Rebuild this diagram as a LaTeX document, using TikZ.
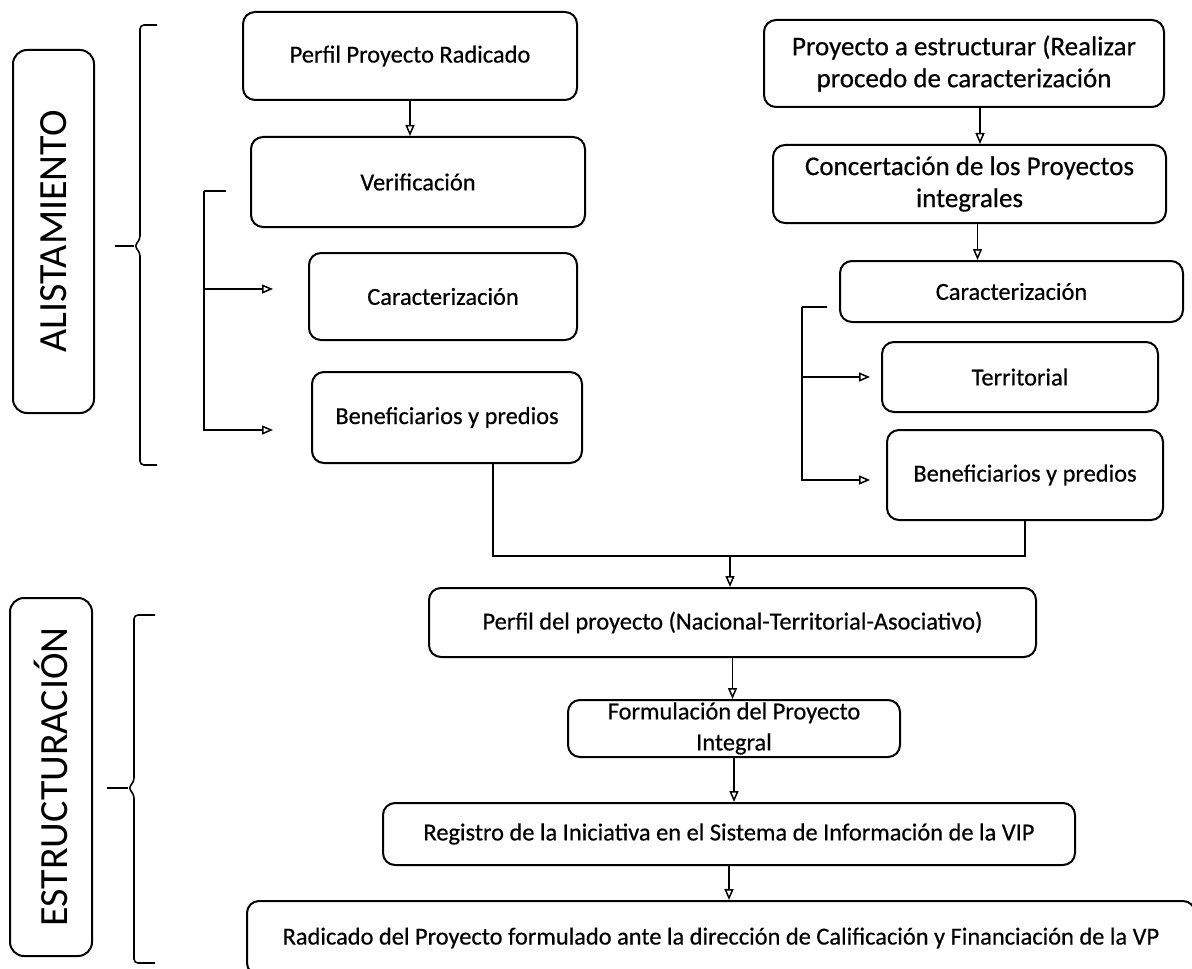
\documentclass[tikz,border=0pt]{standalone}
\usepackage{fontspec}
\setmainfont{Carlito}
\newfontfamily\cajafont{Carlito}[FakeBold=0.5]
\usetikzlibrary{arrows.meta, calc, positioning}
\tikzset{
  align=center,
  caja/.style={draw, rounded corners=6pt, line width=1pt, inner sep=2pt, font=\cajafont\fontsize{12.2}{15.5}\selectfont},
  cajag/.style={caja, font=\cajafont\fontsize{13.5}{16}\selectfont},
  etapa/.style={draw, rounded corners=7pt, line width=1pt, rotate=90, font=\fontsize{20}{24}\selectfont},
  pto/.style={-{Triangle[open, length=5.5pt, width=4.5pt]}, line width=0.75pt},
  alin/.style={line width=0.75pt},
  llave/.style={line width=0.8pt, rounded corners=2pt}
}

\begin{document}
\begin{tikzpicture}[x=0.5pt, y=-0.5pt]
  \useasboundingbox (0,0) rectangle (1192,968);
  \clip (0,0) rectangle (1192,968);

  % etapas
  \node[etapa, minimum width=181.5pt, minimum height=40.5pt] (alist) at (53.5,231.5) {ALISTAMIENTO};
  \node[etapa, minimum width=179pt, minimum height=41pt] (estr) at (51,777) {ESTRUCTURACIÓN};

  \draw[llave] (157,25) -- (140,25) -- (140,240) -- (134,246) -- (140,252) -- (140,465) -- (157,465);
  \draw[alin] (134,246) -- (115,246);
  \draw[llave] (155,615) -- (134,615) -- (134,782) -- (128,788) -- (134,794) -- (134,963) -- (155,963);
  \draw[alin] (128,788) -- (107,788);

  % alistamiento, proyecto radicado
  \node[caja, minimum width=167pt, minimum height=44pt] (perfil) at (410,56) {Perfil Proyecto Radicado};
  \node[caja, minimum width=167pt, minimum height=45pt] (verif) at (418,182) {Verificación};
  \node[caja, minimum width=134pt, minimum height=43.5pt] (caracL) at (443,296.5) {Caracterización};
  \node[caja, minimum width=135pt, minimum height=45.5pt] (benefL) at (447,417.5) {Beneficiarios y predios};

  % alistamiento, proyecto a estructurar
  \node[cajag, minimum width=200pt, minimum height=43.5pt] (proyE) at (964,63.5) {Proyecto a estructurar (Realizar\\procedo de caracterización};
  \node[cajag, minimum width=196.5pt, minimum height=39pt] (concert) at (969.5,184) {Concertación de los Proyectos\\integrales};
  \node[caja, minimum width=171.5pt, minimum height=30.5pt] (caracR) at (1011.5,291.5) {Caracterización};
  \node[caja, minimum width=138pt, minimum height=35pt] (territ) at (1020,377) {Territorial};
  \node[caja, minimum width=138pt, minimum height=45pt] (benefR) at (1025,475) {Beneficiarios y predios};

  % estructuracion
  \node[caja, minimum width=303.5pt, minimum height=34.5pt] (perfilP) at (732.5,622.5) {Perfil del proyecto (Nacional-Territorial-Asociativo)};
  \node[caja, minimum width=166pt, minimum height=28.5pt, inner ysep=0pt] (formul) at (734,728.5) {Formulación del Proyecto\\Integral};
  \node[caja, minimum width=346pt, minimum height=31pt] (regis) at (729,834) {Registro de la Iniciativa en el Sistema de Información de la VIP};
  \node[caja, minimum width=474pt, minimum height=37pt] (radic) at (721,938) {Radicado del Proyecto formulado ante la dirección de Calificación y Financiación de la VP};

  % puntos libres
  \coordinate (spineL) at (204,191);
  \coordinate (bLtop) at (226,191);
  \coordinate (bLa) at (273,289);
  \coordinate (bLb) at (273,430);
  \coordinate (spineR) at (802,307);
  \coordinate (bRtop) at (827,307);
  \coordinate (bRa) at (870,377);
  \coordinate (bRb) at (870,480);
  \coordinate (junc) at (730,556);

  % flechas
  \draw[pto] (perfil.south) -- (perfil.south |- verif.north);
  \draw[alin] (bLtop) -- (spineL);
  \draw[pto] (spineL) |- (bLb);
  \draw[pto] (spineL |- bLa) -- (bLa);

  \draw[pto] ([xshift=8pt]proyE.south) -- ([xshift=8pt]proyE.south |- concert.north);
  \draw[pto] ([xshift=4pt]concert.south) -- ([xshift=4pt]concert.south |- caracR.north);
  \draw[alin] (bRtop) -- (spineR);
  \draw[pto] (spineR) |- (bRb);
  \draw[pto] (spineR |- bRa) -- (bRa);

  \draw[alin] ([xshift=23pt]benefL.south) |- (junc) -| (benefR.south);
  \draw[pto] (junc) -- (junc |- perfilP.north);
  \draw[pto] (perfilP.south) -- (perfilP.south |- formul.north);
  \draw[pto] (formul.south) -- (formul.south |- regis.north);
  \draw[pto] (regis.south) -- (regis.south |- radic.north);
\end{tikzpicture}
\end{document}
